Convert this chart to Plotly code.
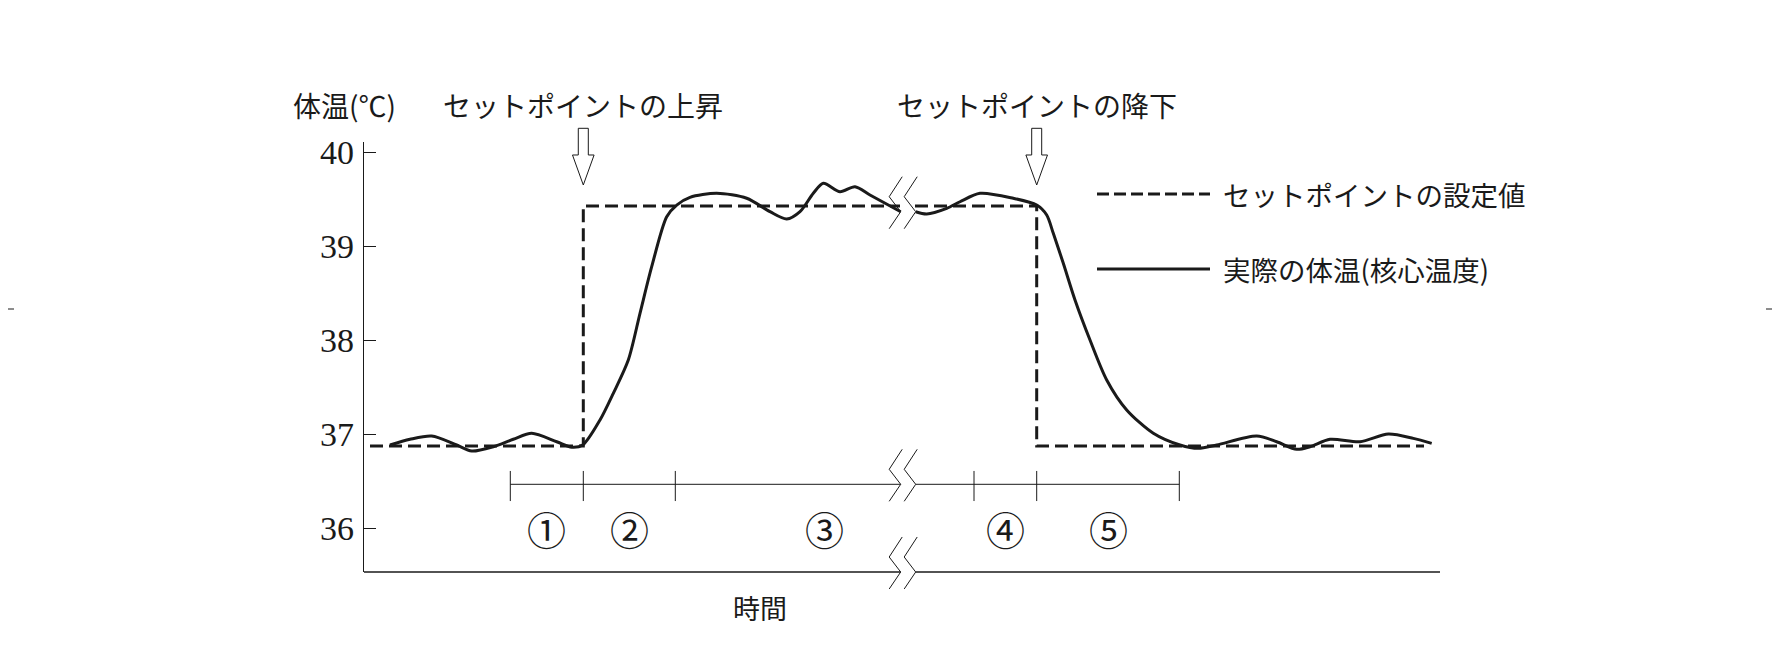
import plotly.graph_objects as go

# ---------------- data (time in arbitrary units, temperature in degC) ----------------
time_a = [26, 46, 67.7, 92.7, 107.7, 129.3, 149.3, 167.7, 192.7, 207.7, 218.7, 236, 249.3,
          264.3, 276, 287.7, 302.7, 312.7, 326, 352.7, 382.7, 406, 422.7, 436, 449.3, 459.3,
          476, 491, 506, 536.7]
temp_a = [36.886, 36.947, 36.982, 36.886, 36.822, 36.868, 36.947, 37.011, 36.921, 36.862,
          36.886, 37.152, 37.436, 37.790, 38.287, 38.783, 39.315, 39.439, 39.521, 39.564,
          39.511, 39.368, 39.290, 39.368, 39.564, 39.670, 39.581, 39.634, 39.546, 39.368]

time_b = [551.7, 562.7, 582.7, 596, 616, 649.3, 672.7, 682.7, 689.3, 699.3, 711, 726, 742.7,
          762.7, 789.3, 816, 834.3, 852.7, 892.7, 912.7, 932.7, 946, 966, 996, 1024.3, 1049.3,
          1067.7]
temp_b = [39.368, 39.344, 39.404, 39.474, 39.564, 39.511, 39.439, 39.333, 39.138, 38.819,
          38.429, 38.003, 37.578, 37.259, 37.011, 36.886, 36.851, 36.886, 36.982, 36.921,
          36.840, 36.868, 36.947, 36.921, 37.003, 36.957, 36.904]

setpoint_time_a = [6, 219.3, 219.3, 536]
setpoint_a = [36.876, 36.876, 39.429, 39.429]
setpoint_time_b = [551, 672.7, 672.7, 1060]
setpoint_b = [39.429, 39.429, 36.876, 36.876]

phase_bounds = [146.3, 219.3, 311.3, 610, 672.7, 815.3]
phase_labels = ["①", "②", "③", "④", "⑤"]
y_ticks = [36, 37, 38, 39, 40]

break_time = 536.7       # left vertex of the axis break
break_gap = 15
bracket_level = 36.468

legend_names = ["セットポイントの設定値", "実際の体温(核心温度)"]
arrow_labels = ["セットポイントの上昇", "セットポイントの降下"]

# ---------------- geometry helpers (screen px -> paper) ----------------
OFF = 8                      # page body margin
W, H = 1772, 645
ML, MR, MT, MB = 356, 340, 134, 81
PW, PH = W - ML - MR, H - MT - MB
X_RANGE = [0, PW]
Y_RANGE = [40 - (H - MB + OFF - 152.3) / 94.0, 40 + (152.3 - MT - OFF) / 94.0]


def xp(px):
    return (px - OFF - ML) / PW


def yp(py):
    return (H - MB - (py - OFF)) / PH


def t2px(t):
    return OFF + ML + (t - X_RANGE[0]) / (X_RANGE[1] - X_RANGE[0]) * PW


def v2py(v):
    return OFF + H - MB - (v - Y_RANGE[0]) / (Y_RANGE[1] - Y_RANGE[0]) * PH


JP = "Noto Sans CJK JP"
SERIF = "Liberation Serif"
BLACK = "#1a1a1a"

fig = go.Figure()

# set point (dashed)
for tx, ty in [(setpoint_time_a, setpoint_a), (setpoint_time_b, setpoint_b)]:
    fig.add_trace(go.Scatter(x=tx, y=ty, mode="lines",
                             line=dict(color=BLACK, width=3, dash="13px,6px"),
                             showlegend=False, hoverinfo="skip"))
# actual body temperature (solid)
for tx, ty in [(time_a, temp_a), (time_b, temp_b)]:
    fig.add_trace(go.Scatter(x=tx, y=ty, mode="lines",
                             line=dict(color=BLACK, width=3, shape="spline", smoothing=0.8),
                             showlegend=False, hoverinfo="skip"))

shapes = []
thin = dict(color=BLACK, width=1)

# bracket line with phase ticks
shapes.append(dict(type="line", xref="x", yref="y", x0=phase_bounds[0], x1=break_time,
                   y0=bracket_level, y1=bracket_level, line=thin))
shapes.append(dict(type="line", xref="x", yref="y", x0=break_time + break_gap, x1=phase_bounds[-1],
                   y0=bracket_level, y1=bracket_level, line=thin))
for b in phase_bounds:
    shapes.append(dict(type="line", xref="x", yref="y", x0=b, x1=b,
                       y0=bracket_level - 0.178, y1=bracket_level + 0.142, line=thin))

# x axis (broken)
shapes.append(dict(type="line", xref="paper", yref="paper", x0=0, x1=xp(t2px(break_time)),
                   y0=0, y1=0, line=dict(color=BLACK, width=1.3)))
shapes.append(dict(type="line", xref="paper", yref="paper", x0=xp(t2px(break_time + break_gap)), x1=1,
                   y0=0, y1=0, line=dict(color=BLACK, width=1.3)))

# break marks
bx = t2px(break_time)
for vy in [v2py(temp_a[-1]), v2py(bracket_level), OFF + H - MB]:
    for dx in (0, break_gap):
        cx = bx + dx
        pts = [(cx + 1.5, vy - 35), (cx - 11.5, vy - 15), (cx, vy), (cx - 11.5, vy + 17)]
        path = "M " + " L ".join(f"{xp(a):.5f},{yp(b):.5f}" for a, b in pts)
        shapes.append(dict(type="path", xref="paper", yref="paper", path=path,
                           line=dict(color=BLACK, width=1), fillcolor="rgba(0,0,0,0)"))

# hollow arrows at the set-point changes
arrow_times = [setpoint_time_a[1], setpoint_time_b[1]]
for t in arrow_times:
    cx = t2px(t)
    pts = [(cx - 5, 128.3), (cx + 5, 128.3), (cx + 5, 155), (cx + 10.8, 155), (cx, 185),
           (cx - 10.8, 155), (cx - 5, 155)]
    path = "M " + " L ".join(f"{xp(a):.5f},{yp(b):.5f}" for a, b in pts) + " Z"
    shapes.append(dict(type="path", xref="paper", yref="paper", path=path,
                       line=dict(color=BLACK, width=1), fillcolor="white"))

# legend samples
shapes.append(dict(type="line", xref="paper", yref="paper", x0=xp(1097), x1=xp(1210),
                   y0=yp(194), y1=yp(194), line=dict(color=BLACK, width=3, dash="12px,5px")))
shapes.append(dict(type="line", xref="paper", yref="paper", x0=xp(1097), x1=xp(1210),
                   y0=yp(269), y1=yp(269), line=dict(color=BLACK, width=3)))

# page crop marks
for x0, x1 in [(OFF, 14), (1766, 1780)]:
    shapes.append(dict(type="line", xref="paper", yref="paper", x0=xp(x0), x1=xp(x1),
                       y0=yp(309), y1=yp(309), line=dict(color=BLACK, width=1)))

annotations = []
annotations.append(dict(text="体温(℃)", xref="paper", yref="paper", x=xp(291), y=yp(104.5),
                        xanchor="left", yanchor="middle", showarrow=False,
                        font=dict(family=JP, size=28, color=BLACK)))
for t, lab in zip(arrow_times, arrow_labels):
    annotations.append(dict(text=lab, xref="x", yref="paper", x=t, y=yp(104.5),
                            xanchor="center", yanchor="middle", showarrow=False,
                            font=dict(family=JP, size=28, color=BLACK)))
for py, name in zip([194, 269], legend_names):
    annotations.append(dict(text=name, xref="paper", yref="paper", x=xp(1221), y=yp(py),
                            xanchor="left", yanchor="middle", showarrow=False,
                            font=dict(family=JP, size=27.5, color=BLACK)))
for i, lab in enumerate(phase_labels):
    mid = (phase_bounds[i] + phase_bounds[i + 1]) / 2
    annotations.append(dict(text=lab, xref="x", yref="y", x=mid, y=36.0,
                            xanchor="center", yanchor="middle", showarrow=False,
                            font=dict(family=JP, size=39, color=BLACK)))
annotations.append(dict(text="時間", xref="paper", yref="paper", x=xp(760), y=yp(607),
                        xanchor="center", yanchor="middle", showarrow=False,
                        font=dict(family=JP, size=27, color=BLACK)))

fig.update_layout(
    width=W, height=H,
    margin=dict(l=ML, r=MR, t=MT, b=MB, pad=0),
    paper_bgcolor="white", plot_bgcolor="white",
    showlegend=False,
    shapes=shapes, annotations=annotations,
    xaxis=dict(range=X_RANGE, visible=False, fixedrange=True),
    yaxis=dict(range=Y_RANGE, showline=True, linecolor=BLACK, linewidth=1.3,
               ticks="inside", ticklen=12, tickwidth=1.2, tickcolor=BLACK,
               tickvals=y_ticks, ticktext=[str(v) for v in y_ticks],
               tickfont=dict(family=SERIF, size=34, color=BLACK),
               ticklabelstandoff=2,
               showgrid=False, zeroline=False, fixedrange=True),
)

fig.write_html("out.html")
